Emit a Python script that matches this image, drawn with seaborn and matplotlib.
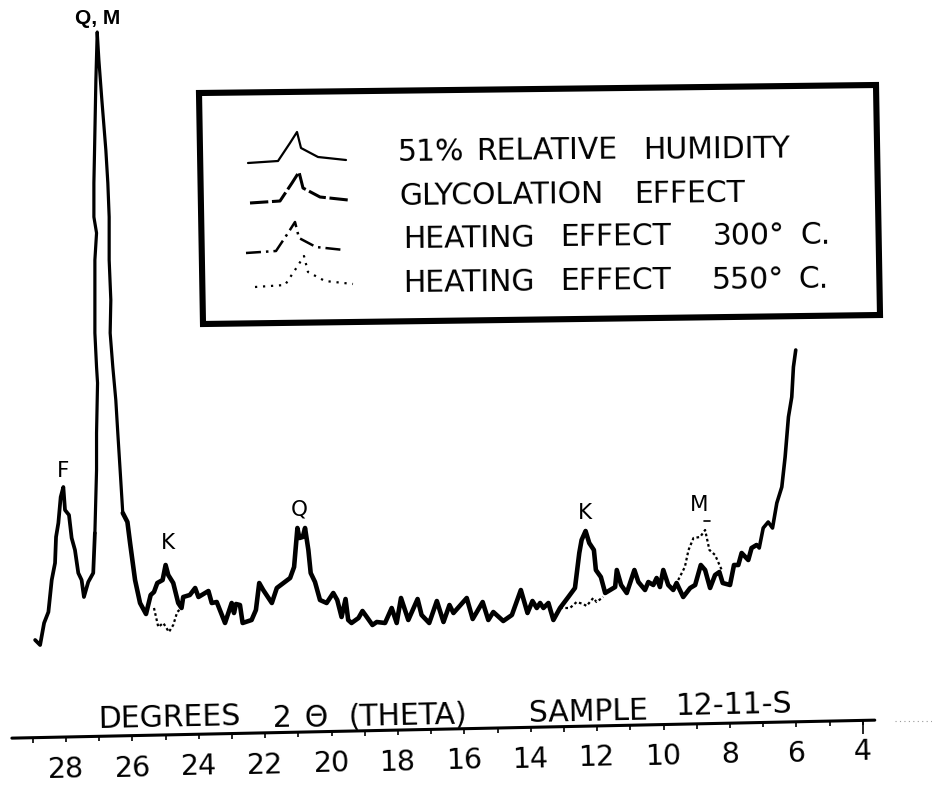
#importing the required libraries
import numpy as np
import pandas as pd
import seaborn as sns
sns.set_style('white')
import matplotlib
matplotlib.use('Agg')
import matplotlib.pyplot as plt
plt.rcParams['font.family'] = ['DejaVu Sans']
plt.rcParams['text.color'] = 'black'

# main trace, 51% relative humidity (degrees 2 theta, relative intensity)
trace_deg = [28.93, 28.78, 28.66, 28.53, 28.43, 28.33, 28.30, 28.23, 28.16, 28.08, 28.03, 27.91, 27.83, 27.73,
             27.63, 27.53, 27.46, 27.33, 27.18, 27.13, 27.08, 27.08, 27.05, 27.08, 27.13, 27.13, 27.13, 27.08,
             27.16, 27.16, 27.14, 27.10, 27.06, 27.01, 26.92, 26.80, 26.74, 26.70, 26.70, 26.65, 26.67, 26.59,
             26.50, 26.44, 26.37, 26.29, 26.15, 26.07, 25.92, 25.77, 25.59, 25.45, 25.35, 25.25, 25.09, 25.00,
             24.92, 24.77, 24.62, 24.52, 24.47, 24.27, 24.11, 24.01, 23.71, 23.61, 23.46, 23.21, 23.01, 22.94,
             22.88, 22.76, 22.68, 22.41, 22.28, 22.18, 22.06, 21.80, 21.65, 21.25, 21.13, 21.03, 20.97, 20.87,
             20.80, 20.70, 20.63, 20.50, 20.35, 20.15, 19.95, 19.83, 19.70, 19.58, 19.50, 19.40, 19.19, 19.07,
             18.94, 18.77, 18.64, 18.39, 18.19, 18.04, 17.91, 17.69, 17.41, 17.29, 17.06, 16.83, 16.63, 16.45,
             16.33, 15.93, 15.75, 15.45, 15.28, 15.13, 14.83, 14.57, 14.30, 14.10, 13.95, 13.82, 13.72, 13.62,
             13.47, 13.32, 13.12, 12.87, 12.67, 12.54, 12.47, 12.35, 12.24, 12.10, 12.04, 11.89, 11.76, 11.46,
             11.41, 11.28, 11.11, 10.88, 10.76, 10.56, 10.46, 10.31, 10.21, 10.11, 10.01, 9.86, 9.71, 9.61,
             9.41, 9.20, 9.05, 8.88, 8.75, 8.60, 8.45, 8.32, 8.22, 8.00, 7.88, 7.75, 7.65, 7.45, 7.35, 7.20,
             7.12, 7.00, 6.85, 6.72, 6.59, 6.44, 6.34, 6.24, 6.14, 6.09, 6.02]
trace_int = [10, 5, 27, 38, 70, 87, 113, 127, 153, 163, 140, 135, 112, 100,
             77, 70, 53, 68, 77, 117, 180, 217, 267, 283, 317, 350, 390, 417,
             433, 467, 500, 570, 618, 590, 550, 500, 467, 433, 390, 350, 317, 283,
             250, 217, 180, 137, 128, 107, 70, 47, 36, 55, 58, 67, 70, 85,
             75, 67, 47, 42, 53, 55, 62, 53, 59, 47, 48, 27, 47, 37,
             46, 45, 27, 30, 40, 67, 60, 47, 62, 72, 83, 122, 112, 113,
             122, 100, 77, 68, 50, 47, 57, 50, 33, 51, 30, 27, 32, 39,
             33, 25, 28, 27, 42, 27, 52, 30, 51, 35, 27, 49, 28, 45,
             37, 52, 31, 48, 30, 38, 29, 35, 60, 37, 49, 42, 47, 42,
             47, 30, 42, 53, 62, 97, 110, 119, 107, 100, 80, 73, 57, 63,
             80, 65, 57, 80, 68, 60, 68, 65, 72, 63, 80, 65, 60, 67,
             53, 62, 65, 85, 80, 62, 75, 78, 67, 65, 85, 85, 97, 90, 102, 105,
             102, 122, 128, 122, 147, 163, 193, 233, 253, 283, 300]

# dotted pieces where the treated sample differs from the main trace
dot_deg_a = [25.35, 25.22, 25.07, 24.90, 24.77, 24.65, 24.52]
dot_int_a = [42, 23, 27, 18, 25, 38, 42]
dot_deg_b = [13.12, 12.82, 12.62, 12.42, 12.32, 12.12, 12.02, 11.82]
dot_int_b = [42, 42, 48, 46, 44, 52, 48, 53]
dot_deg_c = [9.56, 9.36, 9.25, 9.10, 8.90, 8.75, 8.62, 8.45, 8.25]
dot_int_c = [70, 83, 100, 112, 113, 120, 100, 95, 80]

peak_labels = ['F', 'K', 'Q', 'K', 'M']
tick_values = [28, 26, 24, 22, 20, 18, 16, 14, 12, 10, 8, 6, 4]

# legend lettering, word by word (hand lettered, wide gaps)
legend_words = [['51%', 'RELATIVE', 'HUMIDITY'],
                ['GLYCOLATION', 'EFFECT'],
                ['HEATING', 'EFFECT', '300°', 'C.'],
                ['HEATING', 'EFFECT', '550°', 'C.']]
caption_words = ['DEGREES', '2', 'Θ', '(THETA)', 'SAMPLE', '12-11-S']

# little sample peak used in the legend
sample_x = [0, 30, 42, 49, 53, 70, 98]
sample_y = [0, 2, 20, 31, 15, 6, 3]

fig = plt.figure(figsize=(9.32, 7.87), dpi=100)

# main axes: degrees on x (reversed), intensity on y
ax = fig.add_axes([0, 0, 1, 1])
ax.set_xlim(29.988, 1.916)
ax.set_ylim(-137, 650)
ax.axis('off')

trace = pd.DataFrame({'deg': trace_deg, 'intensity': trace_int})
# pen was heavier along the low part of the scan
parts = [(trace.iloc[:20], 2.7), (trace.iloc[19:46], 2.3), (trace.iloc[45:170], 3.3), (trace.iloc[169:], 2.6)]
for part, w in parts:
    sns.lineplot(x='deg', y='intensity', data=part, sort=False, estimator=None, color='black', lw=w, ax=ax)

for dx, dy in [(dot_deg_a, dot_int_a), (dot_deg_b, dot_int_b), (dot_deg_c, dot_int_c)]:
    sns.lineplot(x=dx, y=dy, sort=False, estimator=None, color='black', lw=1.6,
                 linestyle=(0, (1.2, 1.2)), ax=ax)

# the scale is drawn slightly tilted, as on the original sheet
def axis_level(d):
    return -87 + 0.692 * (28 - np.asarray(d, dtype=float))

ends = np.array([29.63, 3.64])
ax.plot(ends, axis_level(ends), color='black', lw=2.2)
minor = np.arange(4, 30)
ax.vlines(minor, axis_level(minor) - 5, axis_level(minor), color='black', lw=1.2)
ax.vlines(4, axis_level(4) - 14, axis_level(4), color='black', lw=1.2)
for t in tick_values:
    ax.text(t, 650 - (778 - 0.75 * (28 - t)), str(t), ha='center', va='baseline', fontsize=20.5, rotation=1.2)

# overlay in pixels for the box, legend and lettering
ov = fig.add_axes([0, 0, 1, 1])
ov.set_xlim(0, 932)
ov.set_ylim(787, 0)
ov.axis('off')
ov.patch.set_alpha(0)

ov.add_patch(plt.Polygon([(199, 93), (876, 85), (880, 315), (203, 324)], closed=True, fill=False,
                         edgecolor='black', lw=4.4))

sample_pos = [(248, 163), (250, 203), (246, 253), (255, 287)]
sample_ls = ['-', (0, (6, 1.2)), (0, (6, 2, 1, 2)), (0, (1, 2.6))]
sample_lw = [1.6, 2.2, 1.8, 1.6]
for (x0, y0), ls, w in zip(sample_pos, sample_ls, sample_lw):
    sns.lineplot(x=[x0 + v for v in sample_x], y=[y0 - v for v in sample_y], sort=False, estimator=None,
                 color='black', lw=w, linestyle=ls, ax=ov)

word_x = [[398, 476, 643], [399, 634], [403, 560, 713, 800], [403, 560, 712, 798]]
line_y = [161, 205, 248, 292]
for words, xs, y0 in zip(legend_words, word_x, line_y):
    for s, x0 in zip(words, xs):
        ov.text(x0, y0 - 0.01 * (x0 - 400), s, fontsize=21.5, ha='left', va='baseline', rotation=0.6,
                rotation_mode='anchor')

ov.text(98, 24, 'Q, M', fontsize=15, ha='center', va='baseline', fontweight='bold', family='Liberation Sans')
peak_pos = [(63, 477), (168, 549), (299, 515), (585, 519), (699, 511)]
for (x0, y0), s in zip(peak_pos, peak_labels):
    ov.text(x0, y0, s, fontsize=15.5, ha='center', va='baseline')
ov.plot([704, 710], [521, 521], color='black', lw=1.2)

caption_pos = [(98, 728), (273, 727), (304, 727), (348, 726), (529, 722), (676, 715)]
for s, (x0, y0) in zip(caption_words, caption_pos):
    ov.text(x0, y0, s, fontsize=21.5, ha='left', va='baseline', rotation=1.2, rotation_mode='anchor')

# faint specks at the right edge of the scan
ov.plot([895, 932], [721, 721], color='0.6', lw=0.8, linestyle=(0, (1, 3)))

fig.savefig('out.png', dpi=100)
